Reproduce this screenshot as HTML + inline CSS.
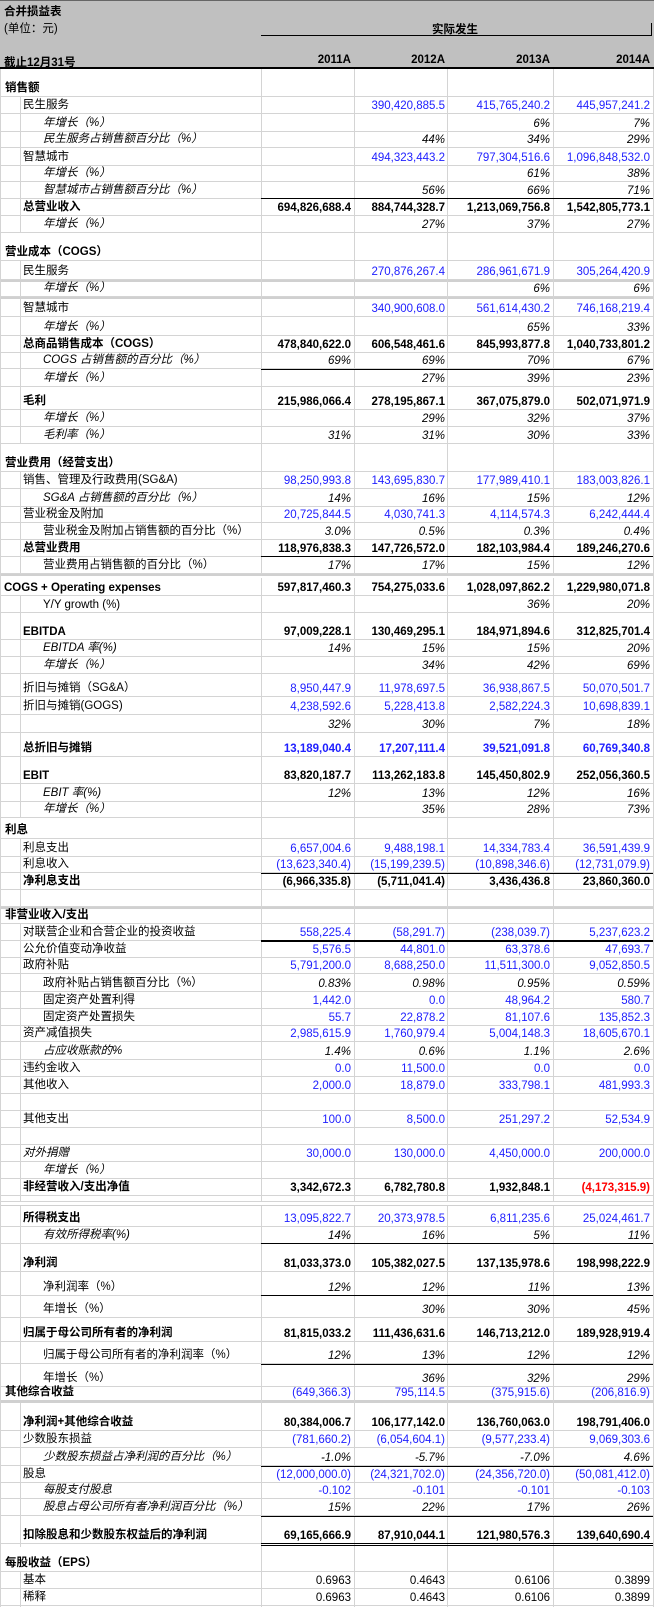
<!DOCTYPE html>
<html><head><meta charset="utf-8"><style>
*{margin:0;padding:0;box-sizing:border-box}
body{width:654px;height:1608px;position:relative;background:#fff;font-family:"Liberation Sans","Noto Sans CJK SC",sans-serif;font-size:11.5px;color:#000;overflow:hidden}
.hd{position:absolute;left:0;top:0;width:654px;height:69px;background:#c0c0c0;border-bottom:2px solid #000;border-top:1px solid #666}
.hd span{position:absolute;font-weight:bold;white-space:nowrap}
.r{position:absolute;left:1px;width:652px;border-bottom:1px solid #d4d4d4}
.r span{position:absolute;bottom:1px;white-space:nowrap}
.l0{left:4px;font-weight:bold}.l1{left:22px}.l2{left:42px}
.c1{right:302px}.c2{right:208px}.c3{right:103px}.c4{right:3px}
.b span.c1,.b span.c2,.b span.c3,.b span.c4{color:#2020ff}
.B span{font-weight:bold}
.i span{font-style:italic}
.w{background:#fff}
.v{position:absolute;top:69px;height:1538px;width:1px;background:#d4d4d4;z-index:2}
.vi{position:absolute;top:97px;height:1510px;width:1px;background:#d4d4d4;z-index:0}
.bl{position:absolute;left:261px;width:392px;height:1px;background:#000;z-index:3}
.g{position:absolute;left:1px;width:652px;height:4px;background:#fff;border-top:2px solid #d0d0d0;z-index:3}
</style></head><body>
<div class="hd">
<span style="left:4px;top:2px">合并损益表</span>
<span style="left:4px;top:19px;font-weight:normal">(单位：元)</span>
<span style="left:432px;top:20px">实际发生</span>
<div style="position:absolute;left:261px;top:34px;width:391px;height:1px;background:#000"></div>
<div style="position:absolute;left:651px;top:22px;width:1px;height:13px;background:#000"></div>
<span style="left:4px;top:53px">截止12月31号</span>
<span style="right:303px;top:53px">2011A</span>
<span style="right:209px;top:53px">2012A</span>
<span style="right:104px;top:53px">2013A</span>
<span style="right:4px;top:53px">2014A</span>
</div>
<div style="position:absolute;left:0;top:69px;width:1px;height:1538px;background:#d4d4d4"></div>
<div class="v" style="left:261px"></div><div class="v" style="left:354px"></div><div class="v" style="left:447px"></div><div class="v" style="left:553px"></div><div class="v" style="left:653px"></div>
<div class="vi" style="left:20px"></div>

<div class="r w" style="top:69px;height:28px;z-index:1"><span class="l0">销售额</span></div>
<div class="r b" style="top:97px;height:17px"><span class="l1">民生服务</span><span class="c2">390,420,885.5</span><span class="c3">415,765,240.2</span><span class="c4">445,957,241.2</span></div>
<div class="r i" style="top:114px;height:18px"><span class="l2">年增长（%）</span><span class="c3">6%</span><span class="c4">7%</span></div>
<div class="r i" style="top:132px;height:16px"><span class="l2">民生服务占销售额百分比（%）</span><span class="c2">44%</span><span class="c3">34%</span><span class="c4">29%</span></div>
<div class="r b" style="top:148px;height:18px"><span class="l1">智慧城市</span><span class="c2">494,323,443.2</span><span class="c3">797,304,516.6</span><span class="c4">1,096,848,532.0</span></div>
<div class="r i" style="top:166px;height:16px"><span class="l2">年增长（%）</span><span class="c3">61%</span><span class="c4">38%</span></div>
<div class="r i" style="top:182px;height:17px"><span class="l2">智慧城市占销售额百分比（%）</span><span class="c2">56%</span><span class="c3">66%</span><span class="c4">71%</span></div>
<div class="bl" style="top:198px"></div>
<div class="r B" style="top:199px;height:17px"><span class="l1">总营业收入</span><span class="c1">694,826,688.4</span><span class="c2">884,744,328.7</span><span class="c3">1,213,069,756.8</span><span class="c4">1,542,805,773.1</span></div>
<div class="r i" style="top:216px;height:17px"><span class="l2">年增长（%）</span><span class="c2">27%</span><span class="c3">37%</span><span class="c4">27%</span></div>

<div class="r w" style="top:233px;height:28px;z-index:1"><span class="l0">营业成本（COGS）</span></div>
<div class="r b" style="top:261px;height:19px"><span class="l1">民生服务</span><span class="c2">270,876,267.4</span><span class="c3">286,961,671.9</span><span class="c4">305,264,420.9</span></div>
<div class="r i" style="top:280px;height:17px;border-top:2px solid #d0d0d0"><span class="l2">年增长（%）</span><span class="c3">6%</span><span class="c4">6%</span></div>
<div class="r b" style="top:297px;height:20px;border-top:2px solid #d0d0d0"><span class="l1">智慧城市</span><span class="c2">340,900,608.0</span><span class="c3">561,614,430.2</span><span class="c4">746,168,219.4</span></div>
<div class="r i" style="top:317px;height:19px"><span class="l2">年增长（%）</span><span class="c3">65%</span><span class="c4">33%</span></div>
<div class="r B" style="top:336px;height:17px"><span class="l1">总商品销售成本（COGS）</span><span class="c1">478,840,622.0</span><span class="c2">606,548,461.6</span><span class="c3">845,993,877.8</span><span class="c4">1,040,733,801.2</span></div>
<div class="r i" style="top:353px;height:16px"><span class="l2">COGS 占销售额的百分比（%）</span><span class="c1">69%</span><span class="c2">69%</span><span class="c3">70%</span><span class="c4">67%</span></div>
<div class="bl" style="top:369px"></div>
<div class="r i" style="top:369px;height:18px"><span class="l2">年增长（%）</span><span class="c2">27%</span><span class="c3">39%</span><span class="c4">23%</span></div>
<div class="r B" style="top:387px;height:23px"><span class="l1">毛利</span><span class="c1">215,986,066.4</span><span class="c2">278,195,867.1</span><span class="c3">367,075,879.0</span><span class="c4">502,071,971.9</span></div>
<div class="r i" style="top:410px;height:17px"><span class="l2">年增长（%）</span><span class="c2">29%</span><span class="c3">32%</span><span class="c4">37%</span></div>
<div class="r i" style="top:427px;height:17px"><span class="l2">毛利率（%）</span><span class="c1">31%</span><span class="c2">31%</span><span class="c3">30%</span><span class="c4">33%</span></div>

<div class="r w" style="top:444px;height:28px;z-index:1"><span class="l0">营业费用（经营支出）</span></div>
<div class="r b" style="top:472px;height:17px"><span class="l1">销售、管理及行政费用(SG&amp;A)</span><span class="c1">98,250,993.8</span><span class="c2">143,695,830.7</span><span class="c3">177,989,410.1</span><span class="c4">183,003,826.1</span></div>
<div class="r i" style="top:489px;height:18px"><span class="l2">SG&amp;A 占销售额的百分比（%）</span><span class="c1">14%</span><span class="c2">16%</span><span class="c3">15%</span><span class="c4">12%</span></div>
<div class="r b" style="top:507px;height:16px"><span class="l1">营业税金及附加</span><span class="c1">20,725,844.5</span><span class="c2">4,030,741.3</span><span class="c3">4,114,574.3</span><span class="c4">6,242,444.4</span></div>
<div class="r" style="top:523px;height:17px"><span class="l2">营业税金及附加占销售额的百分比（%）</span><span class="c1" style="font-style:italic">3.0%</span><span class="c2" style="font-style:italic">0.5%</span><span class="c3" style="font-style:italic">0.3%</span><span class="c4" style="font-style:italic">0.4%</span></div>
<div class="r B" style="top:540px;height:17px"><span class="l1">总营业费用</span><span class="c1">118,976,838.3</span><span class="c2">147,726,572.0</span><span class="c3">182,103,984.4</span><span class="c4">189,246,270.6</span></div>
<div class="bl" style="top:556px"></div>
<div class="r" style="top:557px;height:17px"><span class="l2">营业费用占销售额的百分比（%）</span><span class="c1" style="font-style:italic">17%</span><span class="c2" style="font-style:italic">17%</span><span class="c3" style="font-style:italic">15%</span><span class="c4" style="font-style:italic">12%</span></div>
<div class="g" style="top:574px"></div>
<div class="r B w" style="top:578px;height:18px;z-index:1"><span class="l0" style="left:3px">COGS + Operating expenses</span><span class="c1">597,817,460.3</span><span class="c2">754,275,033.6</span><span class="c3">1,028,097,862.2</span><span class="c4">1,229,980,071.8</span></div>
<div class="r" style="top:596px;height:17px"><span class="l2">Y/Y growth (%)</span><span class="c3" style="font-style:italic">36%</span><span class="c4" style="font-style:italic">20%</span></div>
<div class="r B" style="top:613px;height:27px"><span class="l1">EBITDA</span><span class="c1">97,009,228.1</span><span class="c2">130,469,295.1</span><span class="c3">184,971,894.6</span><span class="c4">312,825,701.4</span></div>
<div class="r i" style="top:640px;height:17px"><span class="l2">EBITDA 率(%)</span><span class="c1">14%</span><span class="c2">15%</span><span class="c3">15%</span><span class="c4">20%</span></div>
<div class="r i" style="top:657px;height:17px"><span class="l2">年增长（%）</span><span class="c2">34%</span><span class="c3">42%</span><span class="c4">69%</span></div>
<div class="r b" style="top:674px;height:23px"><span class="l1">折旧与摊销（SG&amp;A）</span><span class="c1">8,950,447.9</span><span class="c2">11,978,697.5</span><span class="c3">36,938,867.5</span><span class="c4">50,070,501.7</span></div>
<div class="r b" style="top:697px;height:18px"><span class="l1">折旧与摊销(GOGS)</span><span class="c1">4,238,592.6</span><span class="c2">5,228,413.8</span><span class="c3">2,582,224.3</span><span class="c4">10,698,839.1</span></div>
<div class="r i" style="top:715px;height:18px"><span class="c1">32%</span><span class="c2">30%</span><span class="c3">7%</span><span class="c4">18%</span></div>
<div class="r b B" style="top:733px;height:24px"><span class="l1">总折旧与摊销</span><span class="c1">13,189,040.4</span><span class="c2">17,207,111.4</span><span class="c3">39,521,091.8</span><span class="c4">60,769,340.8</span></div>
<div class="r B" style="top:757px;height:27px"><span class="l1">EBIT</span><span class="c1">83,820,187.7</span><span class="c2">113,262,183.8</span><span class="c3">145,450,802.9</span><span class="c4">252,056,360.5</span></div>
<div class="r i" style="top:784px;height:18px"><span class="l2">EBIT 率(%)</span><span class="c1">12%</span><span class="c2">13%</span><span class="c3">12%</span><span class="c4">16%</span></div>
<div class="r i" style="top:802px;height:16px"><span class="l2">年增长（%）</span><span class="c2">35%</span><span class="c3">28%</span><span class="c4">73%</span></div>
<div class="r w" style="top:818px;height:21px;z-index:1"><span class="l0">利息</span></div>
<div class="r b" style="top:839px;height:18px"><span class="l1">利息支出</span><span class="c1">6,657,004.6</span><span class="c2">9,488,198.1</span><span class="c3">14,334,783.4</span><span class="c4">36,591,439.9</span></div>
<div class="r b" style="top:857px;height:16px"><span class="l1">利息收入</span><span class="c1">(13,623,340.4)</span><span class="c2">(15,199,239.5)</span><span class="c3">(10,898,346.6)</span><span class="c4">(12,731,079.9)</span></div>
<div class="bl" style="top:873px"></div>
<div class="r B" style="top:873px;height:17px"><span class="l1">净利息支出</span><span class="c1">(6,966,335.8)</span><span class="c2">(5,711,041.4)</span><span class="c3">3,436,436.8</span><span class="c4">23,860,360.0</span></div>
<div class="r" style="top:890px;height:17px"></div>
<div class="r w" style="top:907px;height:17px;z-index:1;border-top:2px solid #d0d0d0"><span class="l0">非营业收入/支出</span></div>
<div class="r b" style="top:924px;height:17px"><span class="l1">对联营企业和合营企业的投资收益</span><span class="c1">558,225.4</span><span class="c2">(58,291.7)</span><span class="c3">(238,039.7)</span><span class="c4">5,237,623.2</span></div>
<div class="bl" style="top:940px;height:2px"></div>
<div class="r b" style="top:941px;height:17px"><span class="l1">公允价值变动净收益</span><span class="c1">5,576.5</span><span class="c2">44,801.0</span><span class="c3">63,378.6</span><span class="c4">47,693.7</span></div>
<div class="r b" style="top:958px;height:16px"><span class="l1">政府补贴</span><span class="c1">5,791,200.0</span><span class="c2">8,688,250.0</span><span class="c3">11,511,300.0</span><span class="c4">9,052,850.5</span></div>
<div class="r" style="top:974px;height:18px"><span class="l2">政府补贴占销售额百分比（%）</span><span class="c1" style="font-style:italic">0.83%</span><span class="c2" style="font-style:italic">0.98%</span><span class="c3" style="font-style:italic">0.95%</span><span class="c4" style="font-style:italic">0.59%</span></div>
<div class="r b" style="top:992px;height:17px"><span class="l2">固定资产处置利得</span><span class="c1">1,442.0</span><span class="c2">0.0</span><span class="c3">48,964.2</span><span class="c4">580.7</span></div>
<div class="r b" style="top:1009px;height:17px"><span class="l2">固定资产处置损失</span><span class="c1">55.7</span><span class="c2">22,878.2</span><span class="c3">81,107.6</span><span class="c4">135,852.3</span></div>
<div class="r b" style="top:1026px;height:16px"><span class="l1">资产减值损失</span><span class="c1">2,985,615.9</span><span class="c2">1,760,979.4</span><span class="c3">5,004,148.3</span><span class="c4">18,605,670.1</span></div>
<div class="r i" style="top:1042px;height:18px"><span class="l2">占应收账款的%</span><span class="c1">1.4%</span><span class="c2">0.6%</span><span class="c3">1.1%</span><span class="c4">2.6%</span></div>
<div class="r b" style="top:1060px;height:17px"><span class="l1">违约金收入</span><span class="c1">0.0</span><span class="c2">11,500.0</span><span class="c3">0.0</span><span class="c4">0.0</span></div>
<div class="r b" style="top:1077px;height:17px"><span class="l1">其他收入</span><span class="c1">2,000.0</span><span class="c2">18,879.0</span><span class="c3">333,798.1</span><span class="c4">481,993.3</span></div>
<div class="r" style="top:1094px;height:17px"></div>
<div class="r b" style="top:1111px;height:17px"><span class="l1">其他支出</span><span class="c1">100.0</span><span class="c2">8,500.0</span><span class="c3">251,297.2</span><span class="c4">52,534.9</span></div>
<div class="r" style="top:1128px;height:17px"></div>
<div class="r b" style="top:1145px;height:17px"><span class="l1" style="font-style:italic">对外捐赠</span><span class="c1">30,000.0</span><span class="c2">130,000.0</span><span class="c3">4,450,000.0</span><span class="c4">200,000.0</span></div>
<div class="r i" style="top:1162px;height:17px"><span class="l2">年增长（%）</span></div>
<div class="r B" style="top:1179px;height:17px"><span class="l1">非经营收入/支出净值</span><span class="c1">3,342,672.3</span><span class="c2">6,782,780.8</span><span class="c3">1,932,848.1</span><span class="c4" style="color:#ff0000">(4,173,315.9)</span></div>
<div class="r" style="top:1196px;height:6px"></div>
<div class="r w" style="top:1202px;height:4px;z-index:3;border-bottom:1px solid #d0d0d0"></div>
<div class="r b" style="top:1206px;height:21px"><span class="l1" style="font-weight:bold;color:#000">所得税支出</span><span class="c1">13,095,822.7</span><span class="c2">20,373,978.5</span><span class="c3">6,811,235.6</span><span class="c4">25,024,461.7</span></div>
<div class="r i" style="top:1227px;height:17px"><span class="l2">有效所得税率(%)</span><span class="c1">14%</span><span class="c2">16%</span><span class="c3">5%</span><span class="c4">11%</span></div>
<div class="bl" style="top:1243px"></div>
<div class="r B" style="top:1244px;height:28px"><span class="l1">净利润</span><span class="c1">81,033,373.0</span><span class="c2">105,382,027.5</span><span class="c3">137,135,978.6</span><span class="c4">198,998,222.9</span></div>
<div class="r" style="top:1272px;height:24px"><span class="l2">净利润率（%）</span><span class="c1" style="font-style:italic">12%</span><span class="c2" style="font-style:italic">12%</span><span class="c3" style="font-style:italic">11%</span><span class="c4" style="font-style:italic">13%</span></div>
<div class="bl" style="top:1295px"></div>
<div class="r" style="top:1296px;height:22px"><span class="l2">年增长（%）</span><span class="c2" style="font-style:italic">30%</span><span class="c3" style="font-style:italic">30%</span><span class="c4" style="font-style:italic">45%</span></div>
<div class="r B" style="top:1318px;height:24px"><span class="l1">归属于母公司所有者的净利润</span><span class="c1">81,815,033.2</span><span class="c2">111,436,631.6</span><span class="c3">146,713,212.0</span><span class="c4">189,928,919.4</span></div>
<div class="r" style="top:1342px;height:22px"><span class="l2">归属于母公司所有者的净利润率（%）</span><span class="c1" style="font-style:italic">12%</span><span class="c2" style="font-style:italic">13%</span><span class="c3" style="font-style:italic">12%</span><span class="c4" style="font-style:italic">12%</span></div>
<div class="bl" style="top:1364px"></div>
<div class="r" style="top:1364px;height:23px"><span class="l2">年增长（%）</span><span class="c2" style="font-style:italic">36%</span><span class="c3" style="font-style:italic">32%</span><span class="c4" style="font-style:italic">29%</span></div>
<div class="r b w" style="top:1387px;height:16px;z-index:1;border-bottom:3px solid #d0d0d0"><span class="l0">其他综合收益</span><span class="c1">(649,366.3)</span><span class="c2">795,114.5</span><span class="c3">(375,915.6)</span><span class="c4">(206,816.9)</span></div>
<div class="r B" style="top:1403px;height:28px"><span class="l1">净利润+其他综合收益</span><span class="c1">80,384,006.7</span><span class="c2">106,177,142.0</span><span class="c3">136,760,063.0</span><span class="c4">198,791,406.0</span></div>
<div class="r b" style="top:1431px;height:17px"><span class="l1">少数股东损益</span><span class="c1">(781,660.2)</span><span class="c2">(6,054,604.1)</span><span class="c3">(9,577,233.4)</span><span class="c4">9,069,303.6</span></div>
<div class="r i" style="top:1448px;height:18px"><span class="l2">少数股东损益占净利润的百分比（%）</span><span class="c1">-1.0%</span><span class="c2">-5.7%</span><span class="c3">-7.0%</span><span class="c4">4.6%</span></div>
<div class="bl" style="top:1466px"></div>
<div class="r b" style="top:1466px;height:17px"><span class="l1">股息</span><span class="c1">(12,000,000.0)</span><span class="c2">(24,321,702.0)</span><span class="c3">(24,356,720.0)</span><span class="c4">(50,081,412.0)</span></div>
<div class="r b" style="top:1483px;height:16px"><span class="l2" style="font-style:italic">每股支付股息</span><span class="c1">-0.102</span><span class="c2">-0.101</span><span class="c3">-0.101</span><span class="c4">-0.103</span></div>
<div class="r i" style="top:1499px;height:17px"><span class="l2">股息占母公司所有者净利润百分比（%）</span><span class="c1">15%</span><span class="c2">22%</span><span class="c3">17%</span><span class="c4">26%</span></div>
<div class="bl" style="top:1516px"></div>
<div class="r B" style="top:1516px;height:28px"><span class="l1">扣除股息和少数股东权益后的净利润</span><span class="c1">69,165,666.9</span><span class="c2">87,910,044.1</span><span class="c3">121,980,576.3</span><span class="c4">139,640,690.4</span></div>
<div class="bl" style="top:1543px"></div><div class="bl" style="top:1545px"></div>
<div class="r w" style="top:1547px;height:25px;z-index:1"><span class="l0">每股收益（EPS）</span></div>
<div class="r" style="top:1572px;height:17px"><span class="l1">基本</span><span class="c1">0.6963</span><span class="c2">0.4643</span><span class="c3">0.6106</span><span class="c4">0.3899</span></div>
<div class="r" style="top:1589px;height:17px"><span class="l1">稀释</span><span class="c1">0.6963</span><span class="c2">0.4643</span><span class="c3">0.6106</span><span class="c4">0.3899</span></div>
</body></html>
